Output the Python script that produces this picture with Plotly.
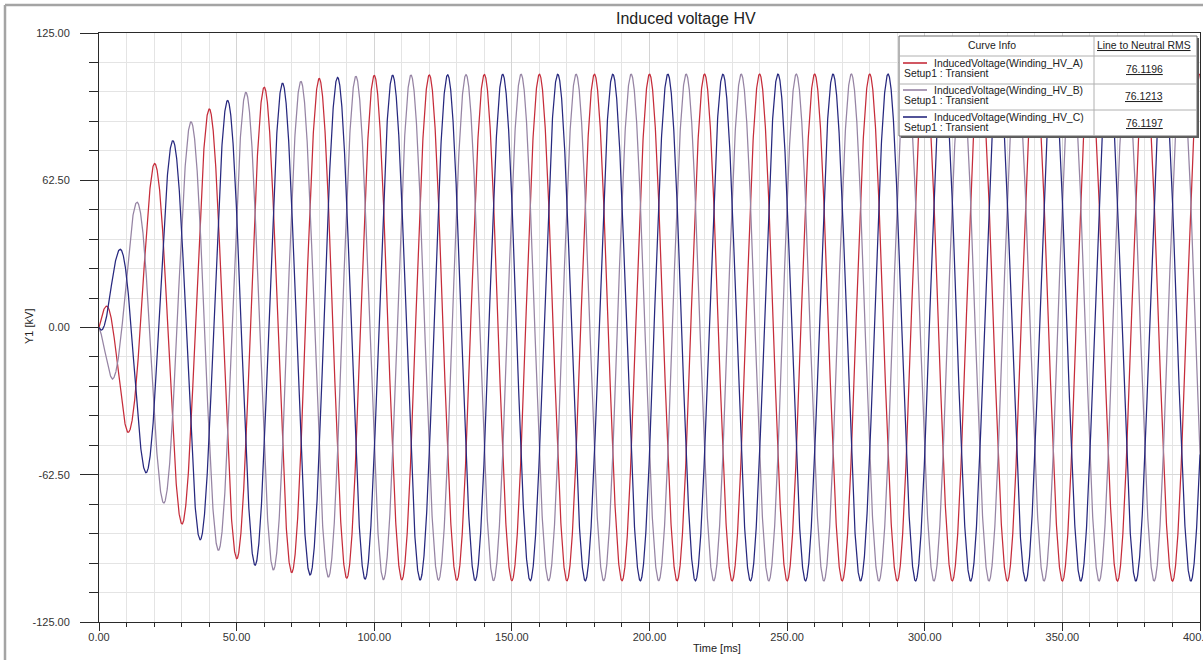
import numpy as np
import plotly.graph_objects as go

# --- data -------------------------------------------------------------
phase_names = ["InducedVoltage(Winding_HV_A)",
               "InducedVoltage(Winding_HV_B)",
               "InducedVoltage(Winding_HV_C)"]
setup_label = "Setup1 : Transient"
rms_kv = [76.1196, 76.1213, 76.1197]          # line-to-neutral RMS, kV
phase_deg = [0.0, 120.0, -120.0]              # phase angle of each winding
freq_hz = 50.0
t_end_ms = 400.0

# build-up envelope of the induced voltage (kV peak) during energisation
env_t_ms = [0, 2.5, 4.8, 7.4, 10.3, 13.5, 17.0, 19.7, 26.5, 33.0, 39.5,
            46.0, 53.0, 60.0, 66.0, 73.0, 80.0, 87.0, 100.0, 150.0, 400.0]
env_kv = [0.0, 12.7, 24.5, 34.0, 44.5, 53.0, 62.0, 69.0, 79.0, 87.0, 92.5,
          96.0, 99.7, 102.0, 103.6, 104.4, 105.7, 106.2, 107.0, 107.5, 107.65]

y_tick_vals = [-125.0, -62.5, 0.0, 62.5, 125.0]
y_tick_text = ["-125.00", "-62.50", "0.00", "62.50", "125.00"]
x_last_label = "400.00"

colors = ["#c62c3a", "#9684a4", "#27287f"]

# --- waveforms ----------------------------------------------------------
t = np.arange(0.0, t_end_ms + 0.025, 0.05)
env_frac = np.interp(t, env_t_ms, env_kv) / env_kv[-1]

fig = go.Figure()
for name, rms, ph, col in zip(phase_names, rms_kv, phase_deg, colors):
    v = np.sqrt(2) * rms * env_frac * np.cos(2 * np.pi * freq_hz * t / 1000.0 + np.radians(ph))
    fig.add_trace(go.Scatter(x=t, y=v, mode="lines", name=name,
                             line=dict(color=col, width=1.25), showlegend=False))

# --- layout -------------------------------------------------------------
W, H = 1203, 660
ML, MR, MT, MB = 99, 3, 33, 38
PW, PH = W - ML - MR, H - MT - MB


def px(x):
    return (x - ML) / PW


def py(y):
    return (H - MB - y) / PH


FONT = "Liberation Sans, Arial, sans-serif"
AX = "#2a2a2a"

fig.update_layout(
    width=W, height=H,
    margin=dict(l=ML, r=MR, t=MT, b=MB, autoexpand=False),
    paper_bgcolor="white", plot_bgcolor="white",
    font=dict(family=FONT, size=11, color="#222"),
    showlegend=False,
)

fig.update_xaxes(
    range=[0, t_end_ms], tickmode="linear", tick0=0, dtick=50,
    tickformat=".2f", ticks="outside", ticklen=8, tickcolor=AX,
    ticklabelstandoff=-3,
    showline=True, linecolor=AX, linewidth=1, mirror=True,
    showgrid=True, gridcolor="#d4d4d4", gridwidth=1, zeroline=False,
    tickfont=dict(size=11, color="#333"), automargin=False,
    minor=dict(tickmode="linear", tick0=0, dtick=10, ticks="outside",
               ticklen=4, tickcolor=AX, showgrid=True,
               gridcolor="#e4e4e4", gridwidth=1),
)
fig.update_yaxes(
    range=[-125, 125], tickmode="array", tickvals=y_tick_vals,
    ticktext=y_tick_text, ticks="outside", ticklen=18, tickcolor=AX,
    ticklabelstandoff=8,
    showline=True, linecolor=AX, linewidth=1, mirror=True,
    showgrid=True, gridcolor="#d8d8d8", gridwidth=1, zeroline=False,
    tickfont=dict(size=11, color="#333"), automargin=False,
    minor=dict(tickmode="linear", tick0=0, dtick=12.5, ticks="outside",
               ticklen=9, tickcolor=AX, showgrid=True,
               gridcolor="#e4e4e4", gridwidth=1),
)

shapes = []
annotations = []

# outer frame (top and left edges)
shapes.append(dict(type="line", xref="paper", yref="paper",
                   x0=px(5), x1=px(W + 5), y0=py(5), y1=py(5),
                   line=dict(color="#a4a4a4", width=2.5)))
shapes.append(dict(type="line", xref="paper", yref="paper",
                   x0=px(5), x1=px(5), y0=py(5), y1=py(H + 5),
                   line=dict(color="#a4a4a4", width=2.5)))

# title and axis titles
annotations.append(dict(text="Induced voltage HV", xref="paper", yref="paper",
                        x=px(686), y=py(18), showarrow=False,
                        xanchor="center", yanchor="middle",
                        font=dict(size=16, color="#222", family=FONT)))
annotations.append(dict(text="Time [ms]", xref="paper", yref="paper",
                        x=px(717), y=py(648), showarrow=False,
                        xanchor="center", yanchor="middle",
                        font=dict(size=11, color="#222", family=FONT)))
annotations.append(dict(text="Y1 [kV]", xref="paper", yref="paper",
                        x=px(29), y=py(327), showarrow=False, textangle=-90,
                        xanchor="center", yanchor="middle",
                        font=dict(size=11, color="#222", family=FONT)))
# last x tick label runs past the right edge of the figure
annotations.append(dict(text=x_last_label, xref="x", yref="paper",
                        x=t_end_ms, y=py(637), showarrow=False,
                        xanchor="center", yanchor="middle",
                        font=dict(size=11, color="#333", family=FONT)))

# curve-info table
bx0, bx1, by0, by1 = 899, 1197, 36, 136
col_div = 1094
row_lines = [56, 84, 110]
shapes.append(dict(type="rect", xref="paper", yref="paper", layer="above",
                   x0=px(bx0 + 2), x1=px(bx1 + 2), y0=py(by0 + 2), y1=py(by1 + 2),
                   fillcolor="#5a5a5a", line=dict(width=0)))
shapes.append(dict(type="rect", xref="paper", yref="paper", layer="above",
                   x0=px(bx0), x1=px(bx1), y0=py(by0), y1=py(by1),
                   fillcolor="white", line=dict(color="#6a6a6a", width=1)))
for yl in row_lines:
    shapes.append(dict(type="line", xref="paper", yref="paper", layer="above",
                       x0=px(bx0), x1=px(bx1), y0=py(yl), y1=py(yl),
                       line=dict(color="#b0b0b0", width=1)))
shapes.append(dict(type="line", xref="paper", yref="paper", layer="above",
                   x0=px(col_div), x1=px(col_div), y0=py(by0), y1=py(by1),
                   line=dict(color="#b0b0b0", width=1)))


def txt(s, x, y, anchor="center", size=10.4):
    annotations.append(dict(text=s, xref="paper", yref="paper", x=px(x), y=py(y),
                            showarrow=False, xanchor=anchor, yanchor="middle",
                            font=dict(size=size, color="#222", family=FONT)))


txt("Curve Info", 992, 46)
txt("<u>Line to Neutral RMS</u>", 1144, 46)

row_y = [63, 90, 117]
for i, (name, rms, col) in enumerate(zip(phase_names, rms_kv, colors)):
    y0 = row_y[i]
    shapes.append(dict(type="line", xref="paper", yref="paper", layer="above",
                       x0=px(903), x1=px(927), y0=py(y0), y1=py(y0),
                       line=dict(color=col, width=1.6)))
    txt(name, 932, y0, anchor="left")
    txt(setup_label, 902, y0 + 10.5, anchor="left")
    txt(f"<u>{rms:.4f}</u>", 1144, y0 + 6)

fig.update_layout(shapes=shapes, annotations=annotations)

fig.write_html("out.html")
